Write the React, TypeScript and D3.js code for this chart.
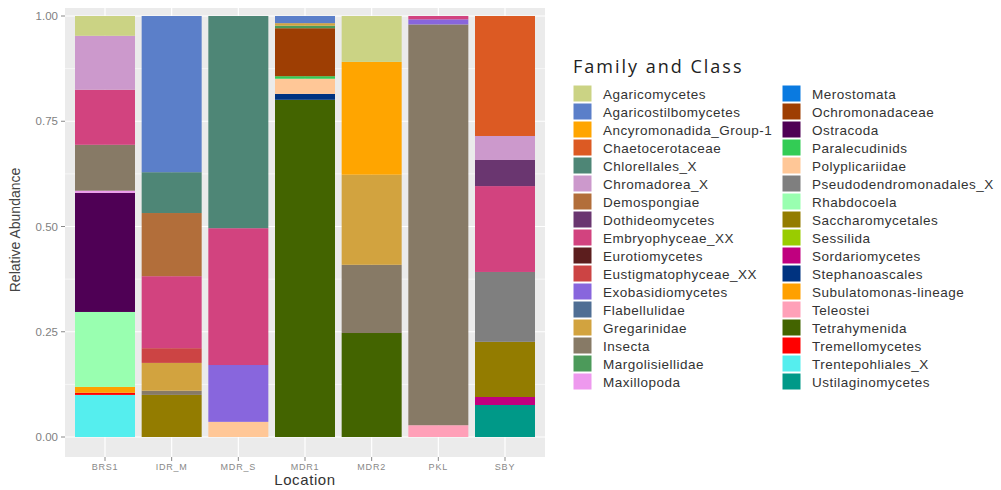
import React from 'react';
import * as d3 from 'd3';

const locations = ['BRS1', 'IDR_M', 'MDR_S', 'MDR1', 'MDR2', 'PKL', 'SBY'];

const taxa = [
  'Agaricomycetes', 'Agaricostilbomycetes', 'Ancyromonadida_Group-1', 'Chaetocerotaceae',
  'Chlorellales_X', 'Chromadorea_X', 'Demospongiae', 'Dothideomycetes', 'Embryophyceae_XX',
  'Eurotiomycetes', 'Eustigmatophyceae_XX', 'Exobasidiomycetes', 'Flabellulidae', 'Gregarinidae',
  'Insecta', 'Margolisiellidae', 'Maxillopoda', 'Merostomata', 'Ochromonadaceae', 'Ostracoda',
  'Paralecudinids', 'Polyplicariidae', 'Pseudodendromonadales_X', 'Rhabdocoela',
  'Saccharomycetales', 'Sessilida', 'Sordariomycetes', 'Stephanoascales',
  'Subulatomonas-lineage', 'Teleostei', 'Tetrahymenida', 'Tremellomycetes',
  'Trentepohliales_X', 'Ustilaginomycetes',
];

const taxaColors = [
  '#cbd384', '#5b7fc9', '#ffa500', '#dc5a23',
  '#4e8676', '#cc99cc', '#b26e3a', '#6a3670', '#d2437f',
  '#5c1e1e', '#cc4444', '#8866dd', '#4f6e94', '#d2a33f',
  '#877a66', '#4c9a5a', '#ee99ee', '#0a7ae0', '#9e3e03', '#4f0055',
  '#33cc55', '#ffc797', '#7f7f7f', '#99ffb0',
  '#937c00', '#99cc00', '#c0007f', '#003380',
  '#ffa000', '#ffa0b8', '#436400', '#ff0000',
  '#55eeee', '#009988',
];

// relative abundance per location (only non-zero taxa listed)
const brs1 = { Agaricomycetes: 0.047, Chromadorea_X: 0.128, Embryophyceae_XX: 0.131, Insecta: 0.109, Maxillopoda: 0.005, Ostracoda: 0.283, Rhabdocoela: 0.178, 'Subulatomonas-lineage': 0.014, Tremellomycetes: 0.005, Trentepohliales_X: 0.1 };
const idrM = { Agaricostilbomycetes: 0.371, Chlorellales_X: 0.097, Demospongiae: 0.15, Embryophyceae_XX: 0.171, Eustigmatophyceae_XX: 0.035, Gregarinidae: 0.066, Insecta: 0.01, Saccharomycetales: 0.1 };
const mdrS = { Chlorellales_X: 0.504, Embryophyceae_XX: 0.325, Exobasidiomycetes: 0.135, Polyplicariidae: 0.036 };
const mdr1 = { Agaricostilbomycetes: 0.017, Gregarinidae: 0.006, Margolisiellidae: 0.006, Ochromonadaceae: 0.114, Paralecudinids: 0.006, Polyplicariidae: 0.036, Stephanoascales: 0.014, Tetrahymenida: 0.801 };
const mdr2 = { Agaricomycetes: 0.109, 'Ancyromonadida_Group-1': 0.268, Gregarinidae: 0.214, Insecta: 0.162, Tetrahymenida: 0.247 };
const pkl = { Embryophyceae_XX: 0.008, Exobasidiomycetes: 0.012, Insecta: 0.952, Teleostei: 0.028 };
const sby = { Chaetocerotaceae: 0.285, Chromadorea_X: 0.057, Dothideomycetes: 0.062, Embryophyceae_XX: 0.204, 'Pseudodendromonadales_X': 0.166, Saccharomycetales: 0.131, Sordariomycetes: 0.019, Ustilaginomycetes: 0.076 };

const abundances: Record<string, number>[] = [brs1, idrM, mdrS, mdr1, mdr2, pkl, sby];

const yTicks = [0, 0.25, 0.5, 0.75, 1];
const yMinor = [0.125, 0.375, 0.625, 0.875];

export default function App() {
  const panel = { left: 65, right: 545, top: 8, bottom: 457 };

  const x = d3.scaleBand().domain(locations).range([panel.left, panel.right]).paddingOuter(0.15).paddingInner(0.1);
  // the original image is a bit stretched: 1.00 at 16px, 0.00 at 437px
  const y = d3.scaleLinear().domain([0, 1]).range([437, 16]);
  const color = d3.scaleOrdinal<string, string>().domain(taxa).range(taxaColors);

  const rows = locations.map((loc, i) => {
    const row: Record<string, any> = { loc };
    taxa.forEach((t) => (row[t] = abundances[i][t] || 0));
    return row;
  });
  // first legend entry on top, like ggplot
  const series = d3.stack<any>().keys([...taxa].reverse())(rows);

  const legendCols = [taxa.slice(0, 17), taxa.slice(17)];
  const cx = (l: string) => x(l)! + x.bandwidth() / 2;

  return (
    <svg width={1001} height={490} style={{ position: 'absolute', left: 0, top: 0, background: '#fff' }}>
      <rect x={panel.left} y={panel.top} width={panel.right - panel.left} height={panel.bottom - panel.top} fill="#ebebeb" />
      {yMinor.map((t) => (
        <line key={'mn' + t} x1={panel.left} x2={panel.right} y1={y(t)} y2={y(t)} stroke="#fff" strokeWidth={0.6} />
      ))}
      {yTicks.map((t) => (
        <line key={'mj' + t} x1={panel.left} x2={panel.right} y1={y(t)} y2={y(t)} stroke="#fff" strokeWidth={1.2} />
      ))}
      {locations.map((l) => (
        <line key={'vx' + l} x1={cx(l)} x2={cx(l)} y1={panel.top} y2={panel.bottom} stroke="#fff" strokeWidth={1.2} />
      ))}

      {series.map((s) => (
        <g key={s.key} fill={color(s.key)}>
          {s.map((d, i) =>
            d[1] - d[0] > 0 ? (
              <rect key={i} x={x(d.data.loc)} width={x.bandwidth()} y={y(d[1])} height={y(d[0]) - y(d[1])} />
            ) : null
          )}
        </g>
      ))}

      {/* y axis */}
      {yTicks.map((t) => (
        <g key={'yt' + t}>
          <line x1={panel.left - 4} x2={panel.left} y1={y(t)} y2={y(t)} stroke="#888" />
          <text x={panel.left - 7} y={y(t)} dy="0.35em" textAnchor="end" fontSize={11.5} fill="#7f7f7f" fontFamily="Liberation Sans, Arial, sans-serif">
            {d3.format('.2f')(t)}
          </text>
        </g>
      ))}
      <text transform={`translate(20,230) rotate(-90)`} textAnchor="middle" fontSize={14} fill="#444" fontFamily="Liberation Sans, Arial, sans-serif">
        Relative Abundance
      </text>

      {/* x axis */}
      {locations.map((l) => (
        <g key={'xt' + l}>
          <line x1={cx(l)} x2={cx(l)} y1={panel.bottom} y2={panel.bottom + 4} stroke="#888" />
          <text x={cx(l)} y={470} textAnchor="middle" fontSize={9} letterSpacing={0.8} fill="#888" fontFamily="Liberation Sans, Arial, sans-serif">
            {l}
          </text>
        </g>
      ))}
      <text x={(panel.left + panel.right) / 2} y={485} textAnchor="middle" fontSize={15} letterSpacing={0.6} fill="#333" fontFamily="Liberation Sans, Arial, sans-serif">
        Location
      </text>

      {/* legend */}
      <text x={573} y={73} fontSize={18} letterSpacing={2} fill="#222" fontFamily="Open Sans, sans-serif">
        Family and Class
      </text>
      {legendCols.map((col, ci) => (
        <g key={'lc' + ci} transform={`translate(${ci === 0 ? 573 : 782},85)`}>
          {col.map((t, i) => (
            <g key={t} transform={`translate(0,${i * 18})`}>
              <rect x={0} y={0} width={19} height={17} fill={color(t)} stroke="#fff" strokeWidth={1} />
              <text x={30} y={9} dy="0.36em" fontSize={13.5} letterSpacing={0.5} fill="#333" fontFamily="Liberation Sans, Arial, sans-serif">
                {t}
              </text>
            </g>
          ))}
        </g>
      ))}
    </svg>
  );
}
